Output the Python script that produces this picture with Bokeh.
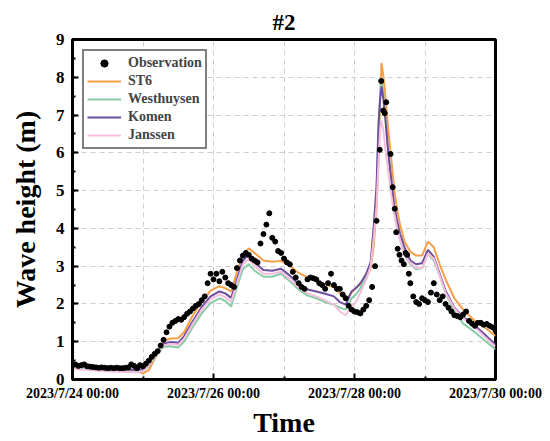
from bokeh.plotting import figure
from bokeh.models import Range1d, FixedTicker, SingleIntervalTicker, Legend, LegendItem
from bokeh.embed import file_html
from bokeh.resources import INLINE

# ---------------- data ----------------
x_tick_hours = [0, 48, 96, 144]
x_minor_hours = [24, 72, 120]
x_tick_labels = ["2023/7/24 00:00", "2023/7/26 00:00", "2023/7/28 00:00", "2023/7/30 00:00"]

# hours since 2023/7/24 00:00
obs_hours = list(range(0, 103)) + [
    103, 103.5, 104.6, 105.1, 105.8, 106.3, 106.8, 108.3, 109, 109.7, 110.2,
    110.7, 111.3, 112, 112.8, 113.4, 113.9, 114.5, 115] + list(range(116, 145))
obs_values = [
    0.38, 0.40, 0.36, 0.38, 0.40, 0.35, 0.34, 0.33, 0.32, 0.31,
    0.32, 0.31, 0.30, 0.31, 0.30, 0.31, 0.30, 0.30, 0.31, 0.32,
    0.40, 0.36, 0.30, 0.38, 0.35, 0.42, 0.50, 0.60, 0.68, 0.75,
    0.90, 1.05, 1.25, 1.40, 1.50, 1.55, 1.60, 1.58, 1.65, 1.74,
    1.80, 1.88, 1.95, 2.00, 2.10, 2.20, 2.55, 2.80, 2.65, 2.80,
    2.60, 2.85, 2.70, 2.55, 2.50, 2.45, 2.95, 3.15, 3.28, 3.35,
    3.30, 3.20, 3.15, 3.10, 3.60, 3.85, 4.10, 4.40, 3.75, 3.65,
    3.40, 3.35, 3.20, 3.10, 3.05, 2.85, 2.70, 2.55, 2.45, 2.40,
    2.65, 2.70, 2.68, 2.65, 2.55, 2.50, 2.40, 2.55, 2.80, 2.50,
    2.40, 2.40, 2.25, 2.15, 1.95, 1.85, 1.80, 1.78, 1.75, 1.85,
    1.95, 2.10, 2.45,
    3.00, 4.20, 6.08, 7.90, 7.12, 7.05, 7.34, 5.97, 5.09, 4.52, 3.90,
    3.46, 3.30, 3.15, 3.05, 3.35, 3.30, 2.80, 2.55,
    2.20, 2.05, 2.00, 2.15, 2.10, 2.05, 2.30, 2.55, 2.25, 2.10,
    2.20, 2.00, 1.90, 1.80, 1.70, 1.68, 1.65, 1.72, 1.80, 1.55,
    1.48, 1.42, 1.50, 1.50, 1.45, 1.47, 1.42, 1.38, 1.30]

model_hours = [0, 6, 12, 18, 22, 24, 26, 29, 31, 33, 36, 38, 41, 44, 47,
               50, 52, 54, 56, 58, 60, 62, 65, 68, 71, 74, 77, 80, 83, 86,
               89, 91, 93, 95, 96.5, 98, 100, 101.5, 102.5, 103.5, 104.2, 104.7,
               105.2, 105.8, 106.5, 107.5, 108.5, 109.5, 110.5, 111.5, 113, 115,
               117, 119, 121, 123, 125, 127, 130, 133, 137, 140, 144]

st6 = [0.33, 0.30, 0.27, 0.24, 0.22, 0.16, 0.25, 0.70, 1.02, 1.08,
       1.10, 1.25, 1.70, 2.05, 2.35, 2.47, 2.42, 2.33, 2.85, 3.30,
       3.47, 3.35, 3.15, 3.12, 3.14, 3.00, 2.82, 2.70, 2.62, 2.52,
       2.44, 2.28, 2.12, 2.30, 2.42, 2.52, 2.68, 2.95, 3.50, 4.50,
       5.90, 7.40, 8.38, 8.05, 7.50, 6.60, 5.85, 5.05, 4.50, 4.10,
       3.65, 3.38, 3.28, 3.28, 3.65, 3.50, 3.05, 2.65, 2.15, 1.85,
       1.55, 1.40, 1.15]

westhuysen = [0.30, 0.27, 0.24, 0.22, 0.20, 0.22, 0.35, 0.70, 0.86, 0.88,
              0.85, 1.00, 1.40, 1.75, 2.02, 2.15, 2.08, 1.93, 2.45, 2.92,
              3.05, 2.88, 2.72, 2.72, 2.80, 2.60, 2.38, 2.22, 2.15, 2.05,
              1.98, 1.90, 1.85, 2.15, 2.25, 2.42, 2.72, 3.05, 3.90, 5.00,
              6.60, 7.50, 7.96, 7.60, 6.95, 6.05, 5.30, 4.55, 4.05, 3.70,
              3.30, 3.05, 2.92, 2.95, 3.32, 3.15, 2.75, 2.30, 1.80, 1.48,
              1.25, 1.05, 0.80]

komen = [0.37, 0.33, 0.30, 0.27, 0.25, 0.28, 0.42, 0.75, 0.94, 0.99,
         0.97, 1.15, 1.55, 1.92, 2.20, 2.33, 2.28, 2.16, 2.65, 3.15,
         3.30, 3.10, 2.90, 2.88, 2.93, 2.75, 2.52, 2.38, 2.33, 2.27,
         2.20, 2.05, 1.98, 2.33, 2.42, 2.55, 2.80, 3.10, 4.00, 5.10,
         6.80, 7.40, 7.75, 7.45, 6.90, 6.00, 5.30, 4.60, 4.20, 3.85,
         3.50, 3.15, 3.05, 3.08, 3.43, 3.25, 2.80, 2.35, 1.90, 1.65,
         1.42, 1.22, 0.92]

janssen = [0.28, 0.25, 0.22, 0.20, 0.19, 0.22, 0.38, 0.72, 0.90, 0.94,
           0.92, 1.08, 1.48, 1.85, 2.12, 2.25, 2.18, 2.05, 2.55, 3.05,
           3.19, 3.00, 2.80, 2.80, 2.85, 2.65, 2.43, 2.28, 2.20, 2.10,
           1.98, 1.80, 1.70, 1.95, 2.05, 2.30, 2.65, 3.00, 3.70, 4.60,
           5.80, 6.60, 6.85, 6.60, 6.10, 5.50, 4.90, 4.40, 4.00, 3.70,
           3.30, 3.08, 2.95, 2.95, 3.33, 3.20, 2.75, 2.30, 1.88, 1.62,
           1.38, 1.15, 0.87]

# ---------------- figure ----------------
FONT = "Liberation Serif"

p = figure(frame_width=423, frame_height=340, output_backend="svg", toolbar_location=None,
           x_range=Range1d(0, 144), y_range=Range1d(0, 9),
           min_border_left=72, min_border_right=47, min_border_top=39, min_border_bottom=50)

p.title.text = "#2"
p.title.align = "center"
p.title.text_font = FONT
p.title.text_font_style = "bold"
p.title.text_font_size = "23px"
p.title.text_color = "black"

p.outline_line_color = "black"
p.outline_line_width = 3
p.background_fill_color = "white"
p.border_fill_color = "white"

# grids
p.xgrid.ticker = FixedTicker(ticks=[24, 48, 72, 96, 120])
p.ygrid.ticker = FixedTicker(ticks=[1, 2, 3, 4, 5, 6, 7, 8])
for g in (p.xgrid, p.ygrid):
    g.grid_line_color = "#cfcfcf"
    g.grid_line_dash = "5 4"
    g.grid_line_width = 1

# axes
p.xaxis.ticker = FixedTicker(ticks=x_tick_hours, minor_ticks=x_minor_hours)
p.xaxis.major_label_overrides = {h: lab for h, lab in zip(x_tick_hours, x_tick_labels)}
p.yaxis.ticker = SingleIntervalTicker(interval=1, num_minor_ticks=2)

for ax in (p.xaxis, p.yaxis):
    ax.axis_line_width = 3
    ax.axis_line_color = "black"
    ax.major_tick_in = 6
    ax.major_tick_out = 0
    ax.minor_tick_in = 3
    ax.minor_tick_out = 0
    ax.major_tick_line_width = 2
    ax.minor_tick_line_width = 2
    ax.major_label_text_font = FONT
    ax.major_label_text_font_style = "bold"
    ax.axis_label_text_font = FONT
    ax.axis_label_text_font_style = "bold"
    ax.axis_label_text_font_size = "28px"
    ax.axis_label_text_color = "black"
    ax.major_label_text_color = "black"

p.xaxis.major_label_text_font_size = "14px"
p.yaxis.major_label_text_font_size = "17px"
p.xaxis.axis_label = "Time"
p.yaxis.axis_label = "Wave height (m)"
p.xaxis.major_label_standoff = 6
p.yaxis.major_label_standoff = 8
p.xaxis.axis_label_standoff = 3
p.yaxis.axis_label_standoff = 12

# lines
r_st6 = p.line(model_hours, st6, line_color="#F5A049", line_width=2)
r_wh = p.line(model_hours, westhuysen, line_color="#86CDA6", line_width=2)
r_ko = p.line(model_hours, komen, line_color="#6B4C9E", line_width=2)
r_ja = p.line(model_hours, janssen, line_color="#F5BEDC", line_width=2)
r_obs = p.scatter(obs_hours, obs_values, size=5, marker="circle",
                  fill_color="black", line_color="black")

legend = Legend(items=[
    LegendItem(label="Observation", renderers=[r_obs]),
    LegendItem(label="ST6", renderers=[r_st6]),
    LegendItem(label="Westhuysen", renderers=[r_wh]),
    LegendItem(label="Komen", renderers=[r_ko]),
    LegendItem(label="Janssen", renderers=[r_ja]),
], location="top_left")
legend.margin = 10
legend.padding = 3
legend.spacing = 0
legend.label_height = 18
legend.glyph_height = 18
legend.glyph_width = 34
legend.label_standoff = 7
legend.label_text_font = FONT
legend.label_text_font_style = "bold"
legend.label_text_font_size = "14px"
legend.border_line_color = "black"
legend.border_line_width = 2
legend.background_fill_alpha = 1.0
p.add_layout(legend)

open("out.html", "w").write(file_html(p, INLINE))
